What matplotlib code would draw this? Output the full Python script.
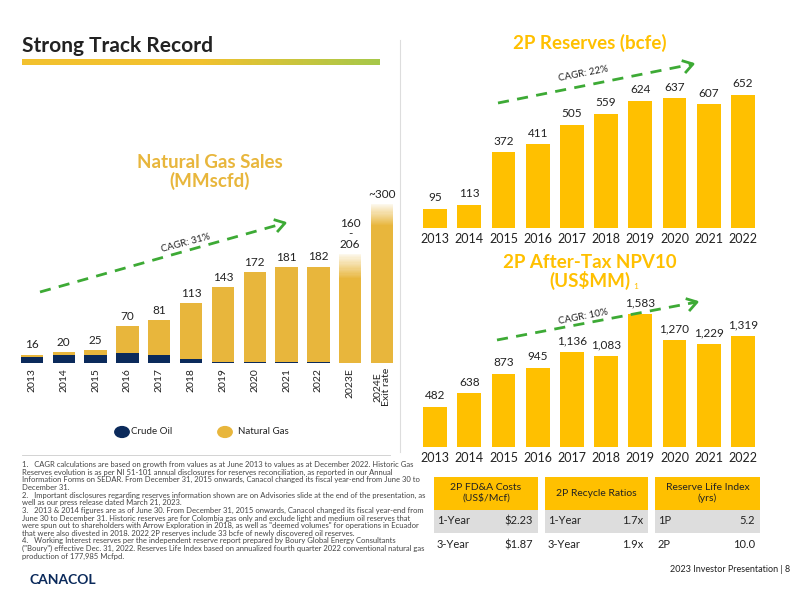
import matplotlib
matplotlib.use("Agg")
import matplotlib.pyplot as plt
import numpy as np
from matplotlib.patches import Rectangle, Circle
from matplotlib.colors import LinearSegmentedColormap

plt.rcParams['font.family'] = ['Lato', 'DejaVu Sans']

# ---- data ----
sales_years = ["2013","2014","2015","2016","2017","2018","2019","2020","2021","2022","2023E","2024E\nExit rate"]
sales_total = [16, 20, 25, 70, 81, 113, 143, 172, 181, 182, 160, 260]
sales_oil   = [11, 14.5, 15, 19, 15.5, 7.5, 1.5, 1.5, 1.5, 2, 0, 0]
sales_upper = [None]*10 + [206, 300]
sales_labels = ["16","20","25","70","81","113","143","172","181","182","160\n-\n206","~300"]

res_years = ["2013","2014","2015","2016","2017","2018","2019","2020","2021","2022"]
reserves = [95, 113, 372, 411, 505, 559, 624, 637, 607, 652]
npv = [482, 638, 873, 945, 1136, 1083, 1583, 1270, 1229, 1319]

tables = [
    ("2P FD&A Costs\n(US$/Mcf)", [("1-Year", "$2.23"), ("3-Year", "$1.87")]),
    ("2P Recycle Ratios", [("1-Year", "1.7x"), ("3-Year", "1.9x")]),
    ("Reserve Life Index\n(yrs)", [("1P", "5.2"), ("2P", "10.0")]),
]

GOLD = "#FFC000"
GOLD2 = "#E8B63C"
NAVY = "#0B2A5B"
DARK = "#222222"

fig = plt.figure(figsize=(8, 6), dpi=100)
W, H = 800, 600

def ax_px(x0, y_top, x1, y_bot):
    return fig.add_axes([x0 / W, 1 - y_bot / H, (x1 - x0) / W, (y_bot - y_top) / H])

def fx(x): return x / W
def fy(y): return 1 - y / H

def clean(ax):
    for s in ax.spines.values():
        s.set_visible(False)
    ax.set_yticks([])
    ax.tick_params(length=0)
    ax.patch.set_alpha(0)

# title
fig.text(fx(22), fy(46), "Strong Track Record", fontsize=15, fontweight="bold", color=DARK, va="center")
grad = np.linspace(0, 1, 256).reshape(1, -1)
gax = ax_px(22, 59, 380, 65)
cm = LinearSegmentedColormap.from_list("g", ["#F2C12E", "#F2C12E", "#A6C84A"])
gax.imshow(grad, aspect="auto", cmap=cm)
gax.axis("off")

# divider
fig.add_artist(plt.Line2D([fx(400), fx(400)], [fy(40), fy(452)], color="#DDDDDD", lw=0.8))

# ---- left chart ----
ax = ax_px(16, 204, 398, 363)
clean(ax)
x = np.arange(len(sales_years))
gas = [t - o for t, o in zip(sales_total, sales_oil)]
ax.bar(x, sales_oil, width=0.7, color=NAVY)
ax.bar(x, gas, bottom=sales_oil, width=0.7, color=GOLD2)
for i, u in enumerate(sales_upper):
    if u is not None:
        n = 20
        seg = (u - sales_total[i]) / n
        for k in range(n):
            ax.bar(i, seg, bottom=sales_total[i] + k * seg, width=0.7, color=GOLD2,
                   alpha=0.9 * (1 - k / n) + 0.05, lw=0)
ax.set_xlim(-0.5, len(x) - 0.5)
ax.set_ylim(0, 300)
ax.set_xticks(x)
ax.set_xticklabels(sales_years, rotation=90, fontsize=7.5, color=DARK, linespacing=0.9)
for i, lab in enumerate(sales_labels):
    top = sales_upper[i] if sales_upper[i] is not None else sales_total[i]
    ax.annotate(lab, (i, top), xytext=(0, 3), textcoords="offset points", ha="center",
                va="bottom", fontsize=8.5, color=DARK, linespacing=0.95, annotation_clip=False)
fig.text(fx(210), fy(172), "Natural Gas Sales\n(MMscfd)", fontsize=13.5, fontweight="bold",
         color=GOLD2, ha="center", va="center", linespacing=1.05)

# legend
fig.add_artist(Circle((fx(122), fy(432)), 0.009, transform=fig.transFigure, color=NAVY))
fig.text(fx(131), fy(432), "Crude Oil", fontsize=7, va="center", color=DARK)
fig.add_artist(Circle((fx(225), fy(432)), 0.009, transform=fig.transFigure, color=GOLD2))
fig.text(fx(238), fy(432), "Natural Gas", fontsize=7, va="center", color=DARK)

def cagr(x0, y0, x1, y1, txt, tx, ty, rot):
    fig.add_artist(plt.Line2D([fx(x0), fx(x1)], [fy(y0), fy(y1)], color="#3DAA35", lw=2, ls=(0, (4, 3))))
    fig.add_artist(plt.Line2D([fx(x1 - 10), fx(x1), fx(x1 - 7)], [fy(y1 - 3), fy(y1), fy(y1 + 8)],
                              color="#3DAA35", lw=2))
    fig.text(fx(tx), fy(ty), txt, fontsize=7, rotation=rot, ha="center", va="center", color=DARK)

cagr(40, 292, 285, 223, "CAGR: 31%", 186, 243, 15)
cagr(498, 103, 693, 64, "CAGR: 22%", 583, 74, 11)
cagr(497, 340, 697, 302, "CAGR: 10%", 583, 317, 11)

# ---- right charts ----
def right_chart(vals, top_y, bot_y, ymax, fmt):
    a = ax_px(418, top_y, 760, bot_y)
    clean(a)
    xx = np.arange(len(res_years))
    a.bar(xx, vals, width=0.7, color=GOLD)
    a.set_xlim(-0.5, len(xx) - 0.5)
    a.set_ylim(0, ymax)
    a.set_xticks(xx)
    a.set_xticklabels(res_years, fontsize=9, color=DARK)
    for i, v in enumerate(vals):
        a.annotate(fmt(v), (i, v), xytext=(0, 4), textcoords="offset points", ha="center",
                   va="bottom", fontsize=8.5, color=DARK)
    return a

right_chart(reserves, 95, 228, 652, lambda v: f"{v}")
fig.text(fx(590), fy(43), "2P Reserves (bcfe)", fontsize=13.5, fontweight="bold", color=GOLD, ha="center", va="center")
right_chart(npv, 314, 447, 1583, lambda v: f"{v:,}")
fig.text(fx(590), fy(272), "2P After-Tax NPV10\n(US$MM)", fontsize=13.5, fontweight="bold", color=GOLD,
         ha="center", va="center", linespacing=1.05)
fig.text(fx(633), fy(287), "1", fontsize=6, color=GOLD, va="center")

# ---- tables ----
xs = [(434, 538), (545, 648), (655, 760)]
for (x0, x1), (hdr, rows) in zip(xs, tables):
    fig.add_artist(Rectangle((fx(x0), fy(510)), fx(x1 - x0), (510 - 477) / H, transform=fig.transFigure,
                             color=GOLD, lw=0))
    fig.text(fx((x0 + x1) / 2), fy(493), hdr, fontsize=7.5, ha="center", va="center", color=DARK)
    fig.add_artist(Rectangle((fx(x0), fy(533)), fx(x1 - x0), 23 / H, transform=fig.transFigure,
                             color="#DDDDDD", lw=0))
    for j, (k, v) in enumerate(rows):
        yy = 521 + j * 24
        fig.text(fx(x0 + 3), fy(yy), k, fontsize=8, va="center", color=DARK)
        fig.text(fx(x1 - 5), fy(yy), v, fontsize=8, va="center", ha="right", color=DARK)

# footnotes
notes = ("1.   CAGR calculations are based on growth from values as at June 2013 to values as at December 2022. Historic Gas\n"
         "Reserves evolution is as per NI 51-101 annual disclosures for reserves reconciliation, as reported in our Annual\n"
         "Information Forms on SEDAR. From December 31, 2015 onwards, Canacol changed its fiscal year-end from June 30 to\n"
         "December 31.\n"
         "2.   Important disclosures regarding reserves information shown are on Advisories slide at the end of the presentation, as\n"
         "well as our press release dated March 21, 2023.\n"
         "3.   2013 & 2014 figures are as of June 30. From December 31, 2015 onwards, Canacol changed its fiscal year-end from\n"
         "June 30 to December 31. Historic reserves are for Colombia gas only and exclude light and medium oil reserves that\n"
         "were spun out to shareholders with Arrow Exploration in 2018, as well as \"deemed volumes\" for operations in Ecuador\n"
         "that were also divested in 2018. 2022 2P reserves include 33 bcfe of newly discovered oil reserves.\n"
         "4.   Working Interest reserves per the independent reserve report prepared by Boury Global Energy Consultants\n"
         "(\"Boury\") effective Dec. 31, 2022. Reserves Life Index based on annualized fourth quarter 2022 conventional natural gas\n"
         "production of 177,985 Mcfpd.")
fig.add_artist(plt.Line2D([fx(22), fx(390)], [fy(455), fy(455)], color="#CCCCCC", lw=0.6))
fig.text(fx(22), fy(461), notes, fontsize=5.5, va="top", color="#444444", linespacing=1.1)

fig.text(fx(30), fy(580), "CANACOL", fontsize=10, fontweight="bold", color=NAVY, va="center")
fig.text(fx(790), fy(570), "2023 Investor Presentation | 8", fontsize=6.5, ha="right", va="center", color=DARK)

fig.savefig("out.png", dpi=100)
